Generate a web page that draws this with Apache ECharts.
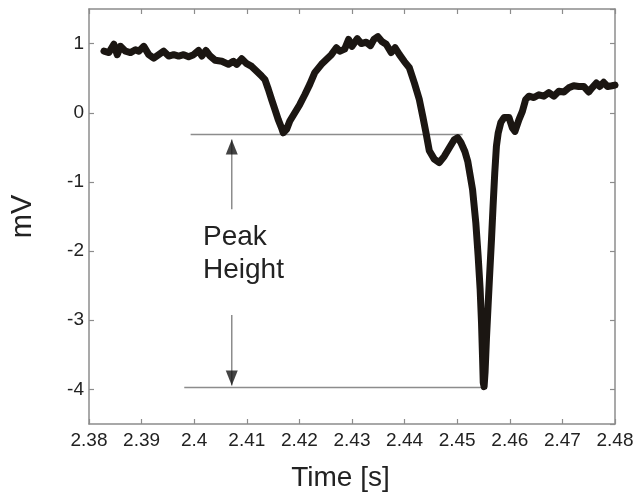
<!DOCTYPE html>
<html>
<head>
<meta charset="utf-8">
<script src="https://cdn.jsdelivr.net/npm/echarts@6/dist/echarts.min.js"></script>
<style>html,body{margin:0;padding:0;background:#fff}#c{width:642px;height:499px}</style>
</head>
<body>
<div id="c"></div>
<script>
// ---- data ----
var timeVals = [2.38284,2.38379,2.38473,2.38536,2.38598,2.38693,2.38788,2.38883,2.38947,2.39042,2.39136,2.39231,2.39326,2.39420,2.39515,2.39610,2.39705,2.39799,2.39894,2.39989,2.40083,2.40146,2.40222,2.40303,2.40398,2.40525,2.40652,2.40746,2.40809,2.40903,2.40998,2.41093,2.41188,2.41282,2.41345,2.41409,2.41472,2.41534,2.41598,2.41661,2.41693,2.41756,2.41818,2.41913,2.42008,2.42102,2.42197,2.42292,2.42419,2.42513,2.42608,2.42703,2.42765,2.42860,2.42936,2.43000,2.43100,2.43176,2.43271,2.43352,2.43417,2.43492,2.43568,2.43650,2.43744,2.43820,2.43902,2.43996,2.44091,2.44186,2.44280,2.44345,2.44407,2.44470,2.44564,2.44659,2.44754,2.44848,2.44943,2.45008,2.45070,2.45146,2.45200,2.45292,2.45354,2.45398,2.45436,2.45462,2.45481,2.45495,2.45511,2.45530,2.45556,2.45587,2.45619,2.45652,2.45682,2.45714,2.45746,2.45780,2.45830,2.45890,2.45985,2.46049,2.46098,2.46174,2.46239,2.46301,2.46364,2.46458,2.46553,2.46648,2.46742,2.46837,2.46932,2.47027,2.47121,2.47216,2.47311,2.47405,2.47500,2.47564,2.47646,2.47708,2.47784,2.47860,2.47943,2.48000];
var mvVals = [0.89,0.87,0.99,0.84,0.96,0.89,0.87,0.91,0.89,0.96,0.84,0.79,0.84,0.89,0.82,0.84,0.82,0.84,0.81,0.84,0.90,0.82,0.90,0.82,0.76,0.745,0.70,0.745,0.70,0.78,0.71,0.67,0.60,0.53,0.48,0.34,0.19,0.05,-0.10,-0.22,-0.29,-0.24,-0.12,0.0,0.12,0.26,0.41,0.58,0.70,0.77,0.84,0.94,0.89,0.92,1.06,0.96,1.07,1.00,1.02,0.97,1.06,1.10,1.03,0.99,0.87,0.94,0.84,0.74,0.65,0.43,0.19,-0.05,-0.29,-0.55,-0.67,-0.72,-0.63,-0.51,-0.39,-0.36,-0.43,-0.56,-0.70,-1.11,-1.59,-2.07,-2.55,-3.03,-3.51,-3.90,-3.96,-3.75,-3.27,-2.79,-2.31,-1.83,-1.35,-0.87,-0.48,-0.29,-0.14,-0.07,-0.07,-0.22,-0.27,-0.10,0.02,0.19,0.24,0.22,0.26,0.24,0.29,0.24,0.31,0.30,0.36,0.39,0.38,0.38,0.30,0.36,0.43,0.38,0.44,0.38,0.39,0.40];

// annotation geometry (data units)
var upperRefX = [2.39932, 2.45102];
var upperRefY = [-0.313, -0.313];
var lowerRefX = [2.39811, 2.45511];
var lowerRefY = [-3.974, -3.974];
var arrowX = 2.40714;
var upArrowY = [-1.395, -0.385];     // shaft start -> tip
var downArrowY = [-2.925, -3.945];   // shaft start -> tip
var annotationText = 'Peak\nHeight';

var xTicks = { min: 2.38, max: 2.48, step: 0.01 };
var yTicks = { min: -4.5, max: 1.5 };

function pairs(xs, ys) { return xs.map(function (x, i) { return [x, ys[i]]; }); }

var FONT = 'Liberation Sans, Arial, sans-serif';
var AX = '#8c8c8c';
var TXT = '#222';

function xAxisCfg(pos, labels) {
  return {
    type: 'value', position: pos, min: xTicks.min, max: xTicks.max, interval: xTicks.step,
    axisLine: { onZero: false, lineStyle: { color: AX, width: 1.5 } },
    axisTick: { show: true, inside: true, length: 5, lineStyle: { color: AX, width: 1.2 } },
    axisLabel: { show: labels, fontSize: 19, color: TXT, fontFamily: FONT, margin: 7,
      formatter: function (v) { return String(+v.toFixed(2)); } },
    splitLine: { show: false },
    name: labels ? 'Time [s]' : '', nameLocation: 'middle', nameGap: 40,
    nameTextStyle: { fontSize: 28, color: TXT, fontFamily: FONT, padding: [0, 23, 0, 0] }
  };
}
function yAxisCfg(pos, labels) {
  return {
    type: 'value', position: pos, min: yTicks.min, max: yTicks.max, splitNumber: 6,
    axisLine: { onZero: false, lineStyle: { color: AX, width: 1.5 } },
    axisTick: { show: true, inside: true, length: 5, lineStyle: { color: AX, width: 1.2 } },
    axisLabel: { show: labels, fontSize: 19, color: TXT, fontFamily: FONT, margin: 5,
      showMinLabel: false, showMaxLabel: false,
      formatter: function (v) { return String(+v.toFixed(2)); } },
    splitLine: { show: false },
    name: labels ? 'mV' : '', nameLocation: 'middle', nameGap: 52, nameRotate: 90,
    nameTextStyle: { fontSize: 29, color: TXT, fontFamily: FONT }
  };
}

var chart = echarts.init(document.getElementById('c'), null, { renderer: 'canvas' });
var refStyle = { color: AX, width: 1.5 };
chart.setOption({
  animation: false,
  backgroundColor: '#fff',
  grid: { left: 87, right: 27, top: 9, bottom: 75 },
  xAxis: [xAxisCfg('bottom', true), xAxisCfg('top', false)],
  yAxis: [yAxisCfg('left', true), yAxisCfg('right', false)],
  series: [
    { type: 'line', data: pairs(upperRefX, upperRefY), showSymbol: false, lineStyle: refStyle, z: 2, silent: true },
    { type: 'line', data: pairs(lowerRefX, lowerRefY), showSymbol: false, lineStyle: refStyle, z: 2, silent: true },
    { type: 'line', data: pairs([arrowX, arrowX], upArrowY), showSymbol: false, lineStyle: refStyle, z: 2, silent: true },
    { type: 'line', data: pairs([arrowX, arrowX], downArrowY), showSymbol: false, lineStyle: refStyle, z: 2, silent: true },
    { type: 'scatter', data: [[arrowX, upArrowY[1]]], symbol: 'triangle', symbolSize: [12, 15],
      symbolOffset: [0, '50%'], itemStyle: { color: '#151515' }, z: 4, silent: true },
    { type: 'scatter', data: [[arrowX, downArrowY[1]]], symbol: 'triangle', symbolSize: [12, 15],
      symbolRotate: 180, symbolOffset: [0, '-50%'], itemStyle: { color: '#151515' }, z: 4, silent: true },
    { type: 'line', data: pairs(timeVals, mvVals), showSymbol: false, z: 3, silent: true,
      lineStyle: { color: '#1b1612', width: 7, cap: 'round', join: 'round' } }
  ],
  graphic: [{
    type: 'text', left: 203, top: 221, silent: true,
    style: { text: annotationText, font: '28px ' + FONT, lineHeight: 33, fill: TXT }
  }]
});
</script>
</body>
</html>
